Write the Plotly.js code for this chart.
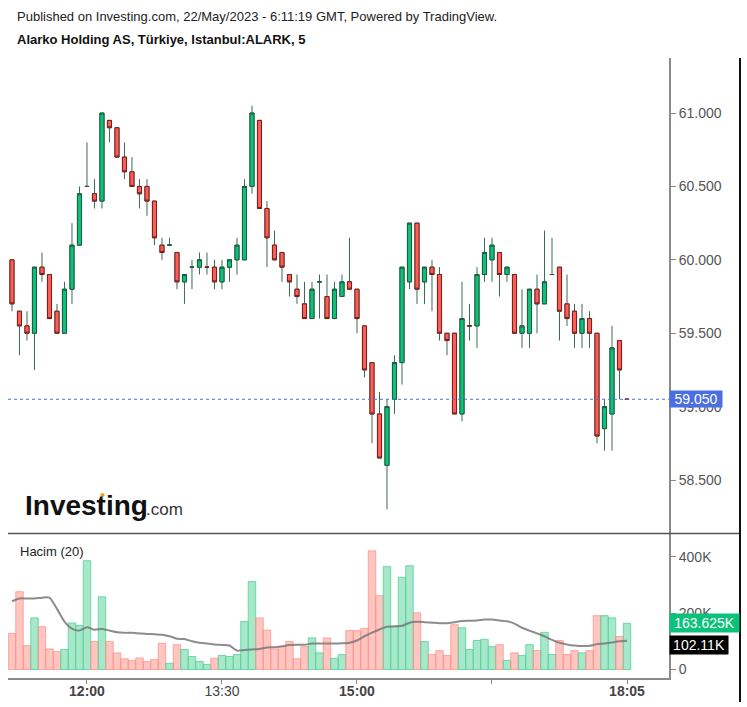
<!DOCTYPE html>
<html>
<head>
<meta charset="utf-8">
<script src="https://cdn.plot.ly/plotly-3.0.1.min.js"></script>
<style>
  html, body { margin: 0; padding: 0; background: #ffffff; }
  #chart { width: 747px; height: 707px; }
</style>
</head>
<body>
<div id="chart"></div>
<script>
// ---- Data (5-minute bars, ALARK, 22 May 2023) ----
const openP = [60.00,59.65,59.55,59.50,59.95,59.90,59.65,59.50,59.80,60.10,
  60.50,60.45,60.40,60.95,60.90,60.70,60.60,60.50,60.50,60.40,
  60.10,60.10,60.05,59.85,59.95,59.95,59.95,59.95,59.85,59.95,
  60.00,60.00,60.50,60.95,60.35,60.10,60.05,59.90,59.80,59.70,
  59.60,59.85,59.75,59.60,59.75,59.85,59.80,59.55,59.30,58.95,
  58.60,59.05,59.30,59.85,60.25,59.85,59.95,59.90,59.50,59.50,
  58.95,59.55,59.55,59.90,60.00,60.05,59.90,59.90,59.50,59.50,
  59.80,59.70,59.90,59.95,59.70,59.65,59.50,59.60,59.50,58.85,
  58.95,59.45,59.05];
const highP = [60.00,59.65,59.65,59.95,60.05,59.90,59.70,59.85,60.25,60.50,
  60.80,60.55,61.00,60.95,60.90,60.80,60.70,60.55,60.55,60.40,
  60.15,60.15,60.05,59.90,60.00,60.05,60.05,60.00,60.00,60.00,
  60.15,60.55,61.05,60.95,60.40,60.20,60.05,59.90,59.90,59.85,
  59.85,59.90,59.90,59.85,59.90,60.15,59.80,59.55,59.30,59.10,
  59.05,59.35,59.95,60.25,60.25,59.95,60.00,59.95,59.50,59.50,
  59.85,59.70,59.95,60.15,60.15,60.05,59.95,59.90,59.80,59.80,
  59.90,60.20,60.15,59.95,59.90,59.70,59.70,59.65,59.50,59.05,
  59.55,59.45,59.05];
const lowP = [59.65,59.35,59.45,59.25,59.85,59.60,59.50,59.50,59.70,60.10,
  60.50,60.35,60.35,60.80,60.70,60.55,60.50,60.35,60.30,60.10,
  60.00,60.10,59.80,59.70,59.80,59.90,59.90,59.80,59.80,59.85,
  59.90,60.00,60.45,60.35,59.95,60.00,59.85,59.75,59.70,59.60,
  59.60,59.60,59.60,59.60,59.75,59.80,59.50,59.20,58.75,58.65,
  58.30,58.95,59.15,59.80,59.70,59.70,59.65,59.45,59.35,58.95,
  58.90,59.45,59.40,59.85,59.85,59.75,59.85,59.50,59.40,59.40,
  59.50,59.70,59.90,59.45,59.55,59.40,59.40,59.40,58.75,58.70,
  58.70,59.05,59.05];
const closeP = [59.70,59.55,59.50,59.95,59.90,59.60,59.50,59.80,60.10,60.45,
  60.50,60.40,61.00,60.90,60.70,60.60,60.50,60.45,60.40,60.15,
  60.05,60.10,59.85,59.90,59.95,60.00,59.95,59.85,59.95,60.00,
  60.10,60.50,61.00,60.35,60.15,60.00,59.95,59.85,59.75,59.60,
  59.80,59.85,59.60,59.80,59.85,59.80,59.60,59.25,58.95,58.65,
  59.00,59.30,59.95,60.25,59.80,59.95,59.90,59.50,59.45,58.95,
  59.60,59.55,59.90,60.05,60.10,59.90,59.95,59.50,59.55,59.80,
  59.70,59.85,59.90,59.65,59.60,59.50,59.60,59.50,58.80,59.00,
  59.40,59.25,59.05];
// Volume (shares)
const volume = [128000,276000,85000,183000,152000,73000,64000,71000,165000,156000,
  386000,99000,258000,99000,59000,38000,32000,41000,28000,35000,
  93000,22000,88000,71000,46000,28000,18000,40000,50000,46000,
  53000,170000,312000,183000,140000,73000,83000,99000,38000,81000,
  112000,59000,112000,40000,53000,138000,138000,146000,421000,262000,
  365000,153000,327000,368000,201000,99000,53000,67000,50000,159000,
  148000,71000,103000,107000,81000,88000,32000,59000,50000,88000,
  67000,132000,53000,103000,53000,67000,59000,67000,191000,191000,
  183000,117000,163625];
// Volume moving average (20)
const volumeMA = [242000,252000,252000,252000,255000,255000,215000,170000,145000,138000,
  150000,141000,144000,138000,132000,130000,130000,128000,126000,125000,
  123000,118000,109000,108000,100000,95000,92000,89000,87000,85000,
  67000,69000,71000,73000,78000,79000,82000,87000,88000,88000,
  92000,92000,92000,92000,93000,95000,103000,118000,131000,142000,
  152000,153000,155000,166000,169000,168000,166000,164000,164000,168000,
  172000,173000,174000,177000,177000,174000,171000,163000,148000,138000,
  128000,118000,105000,95000,89000,85000,83000,84000,90000,92000,
  96000,100000,102110];
// Time axis ticks (bar index -> label)
const timeTickIndex = [10, 28, 46, 64, 82];
const timeTickLabels = ["<b>12:00</b>", "13:30", "<b>15:00</b>", "", "<b>18:05</b>"];
const priceTicks = [58.5, 59.0, 59.5, 60.0, 60.5, 61.0];
const volTicks = [0, 200000, 400000];
const volTickLabels = ["0", "200K", "400K"];

// ---- Derived ----
const idx = closeP.map((_, i) => i);
const bodyHigh = closeP.map((c, i) => Math.max(c, openP[i]));
const bodyLow = closeP.map((c, i) => Math.min(c, openP[i]));
const volColors = closeP.map((c, i) => c >= openP[i] ? "rgba(120,220,175,0.65)" : "rgba(255,150,140,0.55)");
const volLines = closeP.map((c, i) => c >= openP[i] ? "rgba(80,210,150,0.8)" : "rgba(255,140,130,0.7)");
const lastClose = closeP[closeP.length - 1];
const lastVol = volume[volume.length - 1];
const lastMA = volumeMA[volumeMA.length - 1];

const WICK = "#3a6b54";
const UPF = "#0cc27b", UPL = "#1d5c3f";
const DNF = "#fd5d54", DNL = "#7a1e1e";
const FONT = "Liberation Sans, Arial, sans-serif";
const AX = "#8a8a8a";
const TXT = "#555555";

const traces = [
  { // wicks
    type: "candlestick", x: idx, open: openP, high: highP, low: lowP, close: closeP,
    xaxis: "x", yaxis: "y", hoverinfo: "skip", showlegend: false,
    increasing: { line: { color: WICK, width: 1 }, fillcolor: WICK },
    decreasing: { line: { color: WICK, width: 1 }, fillcolor: WICK },
    whiskerwidth: 0
  },
  { // bodies
    type: "candlestick", x: idx, open: openP, high: bodyHigh, low: bodyLow, close: closeP,
    xaxis: "x", yaxis: "y", hoverinfo: "skip", showlegend: false,
    increasing: { line: { color: UPL, width: 1 }, fillcolor: UPF },
    decreasing: { line: { color: DNL, width: 1 }, fillcolor: DNF },
    whiskerwidth: 0
  },
  {
    type: "bar", x: idx, y: volume, xaxis: "x", yaxis: "y2", width: 1,
    marker: { color: volColors, line: { color: volLines, width: 1 } },
    hoverinfo: "skip", showlegend: false
  },
  {
    type: "scatter", mode: "lines", x: idx, y: volumeMA, xaxis: "x", yaxis: "y2",
    line: { color: "rgba(120,120,120,0.85)", width: 2, shape: "spline", smoothing: 0.6 },
    hoverinfo: "skip", showlegend: false
  }
];

const W = 747, H = 707, L = 8, R = 78, T = 58, B = 29;
const plotW = W - L - R, plotH = H - T - B;
const px2x = (px) => (px - L) / plotW;
const py2y = (py) => (H - B - py) / plotH;

const layout = {
  width: W, height: H,
  margin: { l: L, r: R, t: T, b: B, pad: 0 },
  paper_bgcolor: "#ffffff", plot_bgcolor: "#ffffff",
  font: { family: FONT, size: 14, color: TXT },
  showlegend: false,
  boxmode: "overlay",
  boxgap: 0.22,
  xaxis: {
    range: [-0.53, 87.6], anchor: "y2", showgrid: false, zeroline: false,
    rangeslider: { visible: false },
    showline: true, linecolor: AX, linewidth: 2,
    ticks: "outside", ticklen: 4, tickcolor: AX, tickwidth: 1,
    ticklabelstandoff: -5,
    tickmode: "array", tickvals: timeTickIndex, ticktext: timeTickLabels,
    tickfont: { family: FONT, size: 14, color: "#444" }, fixedrange: true
  },
  yaxis: {
    domain: [py2y(533), 1], range: [58.139, 61.375], side: "right", anchor: "x",
    showgrid: false, zeroline: false, showline: true, linecolor: AX, linewidth: 2,
    ticks: "outside", ticklen: 5, tickcolor: AX,
    tickmode: "array", tickvals: priceTicks, tickformat: ".3f",
    tickfont: { family: FONT, size: 14, color: TXT }
  },
  yaxis2: {
    domain: [0, py2y(534)], range: [-30200, 480800], side: "right", anchor: "x",
    showgrid: false, zeroline: false, showline: true, linecolor: AX, linewidth: 2,
    ticks: "outside", ticklen: 5, tickcolor: AX,
    tickmode: "array", tickvals: volTicks, ticktext: volTickLabels,
    tickfont: { family: FONT, size: 14, color: TXT }
  },
  shapes: [
    { type: "line", xref: "paper", yref: "y", x0: 0, x1: 1, y0: lastClose, y1: lastClose,
      line: { color: "#4b6fe0", width: 1, dash: "dot" } },
    { type: "line", xref: "paper", yref: "paper", x0: 0, x1: px2x(740), y0: py2y(533.5), y1: py2y(533.5),
      line: { color: "#555555", width: 1.5 } },
    { type: "line", xref: "paper", yref: "paper", x0: px2x(740), x1: px2x(740), y0: py2y(702), y1: 1,
      line: { color: "#111111", width: 2 } },
    { type: "circle", xref: "paper", yref: "paper", fillcolor: "#f39c12", line: { width: 0 },
      x0: px2x(100.5), x1: px2x(104.5), y0: py2y(497), y1: py2y(493) }
  ],
  annotations: [
    { xref: "paper", yref: "paper", x: px2x(15), y: py2y(17), xanchor: "left", yanchor: "middle",
      showarrow: false, text: "Published on Investing.com, 22/May/2023 - 6:11:19 GMT, Powered by TradingView.",
      font: { family: FONT, size: 13, color: "#222" } },
    { xref: "paper", yref: "paper", x: px2x(15), y: py2y(40), xanchor: "left", yanchor: "middle",
      showarrow: false, text: "<b>Alarko Holding AS, Türkiye, Istanbul:ALARK, 5</b>",
      font: { family: FONT, size: 13, color: "#111" } },
    { xref: "paper", yref: "paper", x: px2x(18), y: py2y(551), xanchor: "left", yanchor: "middle",
      showarrow: false, text: "Hacim (20)",
      font: { family: FONT, size: 13, color: "#222" } },
    { xref: "paper", yref: "paper", x: px2x(23), y: py2y(505), xanchor: "left", yanchor: "middle",
      showarrow: false,
      text: "<b>Investing</b>",
      font: { family: FONT, size: 28, color: "#111" } },
    { xref: "paper", yref: "paper", x: px2x(144), y: py2y(509), xanchor: "left", yanchor: "middle",
      showarrow: false,
      text: ".com",
      font: { family: FONT, size: 17, color: "#333" } },
    { xref: "paper", yref: "y", x: 1, y: lastClose, xanchor: "left", yanchor: "middle",
      showarrow: false, text: lastClose.toFixed(3), bgcolor: "#4b6fe0", width: 50, height: 14, borderpad: 1,
      align: "center", font: { family: FONT, size: 14, color: "#ffffff" } },
    { xref: "paper", yref: "y2", x: 1, y: lastVol, xanchor: "left", yanchor: "middle",
      showarrow: false, text: (lastVol / 1000).toFixed(3) + "K", bgcolor: "#0cc27b", width: 67, height: 16, borderpad: 1,
      align: "center", font: { family: FONT, size: 14, color: "#ffffff" } },
    { xref: "paper", yref: "y2", x: 1, y: lastMA, yshift: -4, xanchor: "left", yanchor: "middle",
      showarrow: false, text: (lastMA / 1000).toFixed(2) + "K", bgcolor: "#000000", width: 56, height: 16, borderpad: 1,
      align: "center", font: { family: FONT, size: 14, color: "#ffffff" } }
  ]
};

Plotly.newPlot("chart", traces, layout, { staticPlot: true, displayModeBar: false });
</script>
</body>
</html>
